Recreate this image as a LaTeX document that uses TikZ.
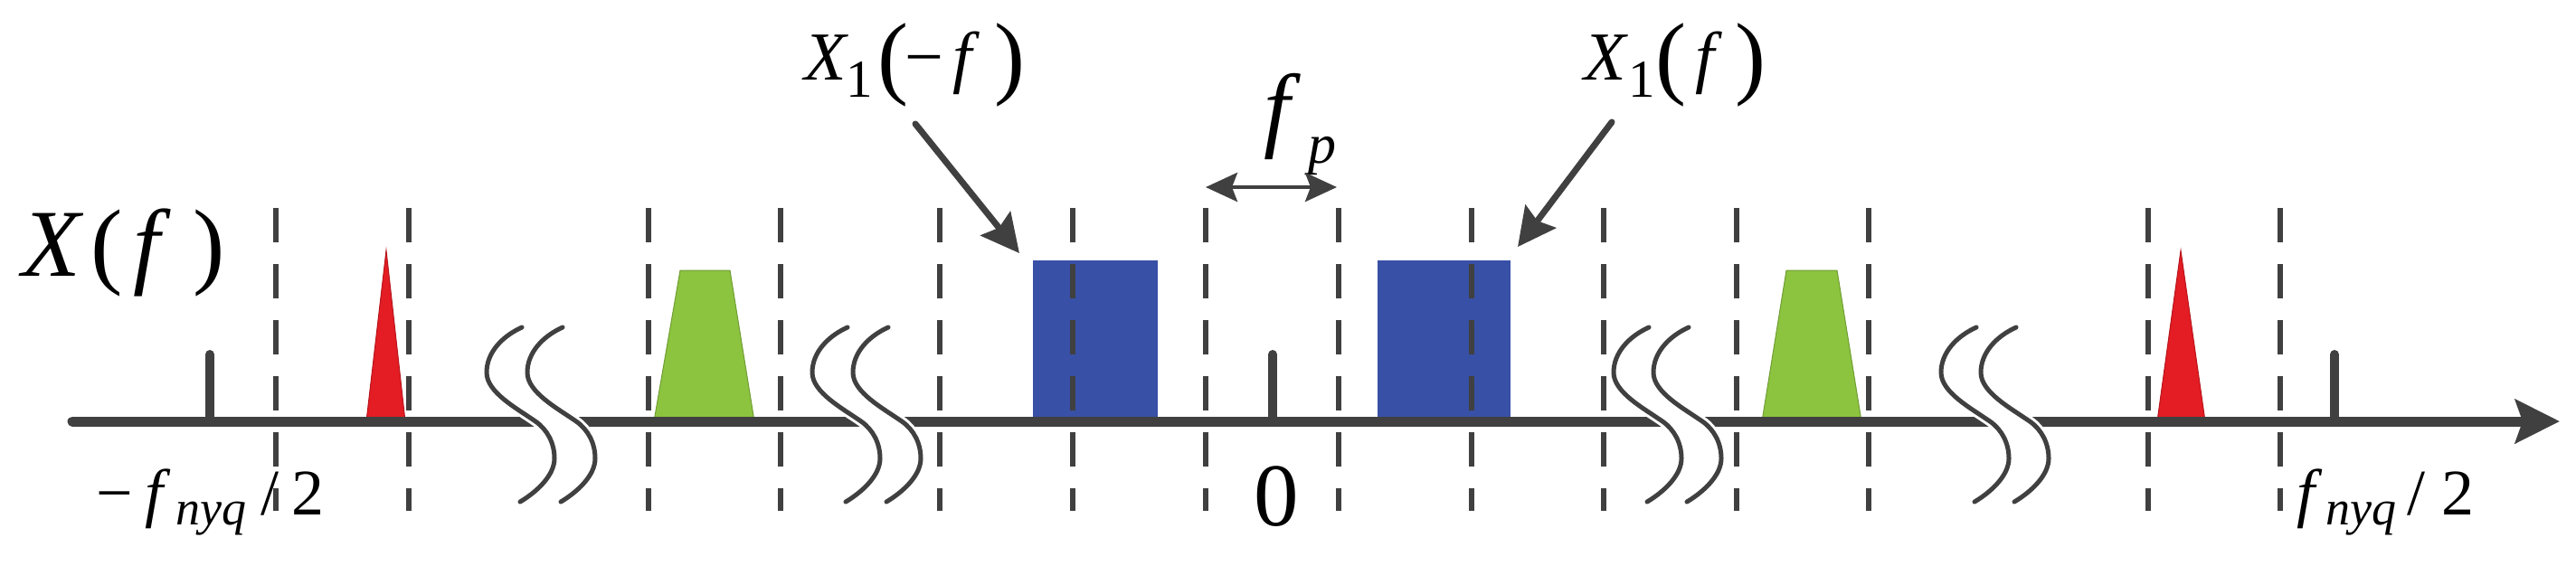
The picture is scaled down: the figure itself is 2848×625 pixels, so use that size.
\documentclass[tikz,border=0pt]{standalone}
\usepackage{fontspec}
\setmainfont{Liberation Serif}
\newfontfamily\tnr{Liberation Serif}
\usetikzlibrary{arrows.meta}
\definecolor{dk}{RGB}{64,64,64}
\definecolor{rd}{RGB}{228,28,36}
\definecolor{gn}{RGB}{140,196,64}
\definecolor{bl}{RGB}{56,80,166}
\newcommand\fsz[1]{\fontsize{#1}{#1}\selectfont}
\begin{document}
\begin{tikzpicture}[x=0.25pt,y=-0.25pt,
  every node/.style={inner sep=0pt,outer sep=0pt,anchor=base west,text=black,font=\tnr},
  axisline/.style={dk,line width=2.75pt,line cap=round,-{Stealth[length=12.25pt,width=12pt,inset=2pt]}},
  stem/.style={dk,line width=2.5pt,line cap=round},
  guide/.style={dk,line width=1.5pt,dash pattern=on 9.5pt off 6pt},
  ptr/.style={dk,line width=1.75pt,line cap=round,-{Stealth[length=10.5pt,width=10.5pt,inset=1.5pt]}},
  dbl/.style={dk,line width=1.1pt,{Stealth[length=8.75pt,width=8pt,inset=1.5pt]}-{Stealth[length=8.75pt,width=8pt,inset=1.5pt]}},
  brk/.style={dk,line width=1.25pt,line cap=round},
  halo/.style={white,line width=2.75pt},
  redband/.style={fill=rd,draw=rd!80!black,line width=0.25pt},
  greenband/.style={fill=gn,draw=gn!80!black,line width=0.25pt},
  blueband/.style={fill=bl}]
\useasboundingbox (0,0) rectangle (2848,625);
% spectral bands
\filldraw[redband] (405,466) -- (427,277) -- (448,466) -- cycle;
\filldraw[redband] (2385,466) -- (2411,277) -- (2438,466) -- cycle;
\filldraw[greenband] (723,466) -- (752,299) -- (807,299) -- (834,466) -- cycle;
\filldraw[greenband] (1948,466) -- (1975,299) -- (2031,299) -- (2058,466) -- cycle;
\fill[blueband] (1142,288) rectangle (1280,466);
\fill[blueband] (1523,288) rectangle (1670,466);
% axis
\coordinate (ax0) at (80,466);
\coordinate (ax1) at (2830,466);
\draw[axisline] (ax0) -- (ax1);
% stems
\foreach \s in {232,1407,2581} \draw[stem] (\s,466) -- (\s,392);
% dashed guides
\foreach \g in {305,452,717,863,1039,1186,1333,1480,1627,1773,1920,2066,2375,2521}
  \draw[guide] (\g,230) -- (\g,565);
% axis breaks
\foreach \a/\b in {577/622,937/982,1823/1867,2185/2229}{
  \fill[white] (\a+1,458) -- (\b+1,458) -- (\b+27,474) -- (\a+27,474) -- cycle;
  \foreach \t in {\a,\b}{
    \draw[halo] (\t,362) .. controls (\t-22,372) and (\t-39,390) .. (\t-39,412)
      .. controls (\t-39,434) and (\t-5,452) .. (\t+15,466)
      .. controls (\t+28,475) and (\t+36,490) .. (\t+36,507)
      .. controls (\t+36,525) and (\t+18,543) .. (\t-2,555);
    \draw[brk] (\t,362) .. controls (\t-22,372) and (\t-39,390) .. (\t-39,412)
      .. controls (\t-39,434) and (\t-5,452) .. (\t+15,466)
      .. controls (\t+28,475) and (\t+36,490) .. (\t+36,507)
      .. controls (\t+36,525) and (\t+18,543) .. (\t-2,555);
  }
}
% labels
\node (xf) at (24,305) {\fsz{26.5pt}\textit{X}\hspace{2pt}(\hspace{3pt}\textit{f}\hspace{6pt})};
\node (x1m) at (889,88) {\fsz{19pt}\textit{X}\hspace{-0.5pt}\raisebox{-4.75pt}{\fsz{14.75pt}1}\hspace{1.25pt}\raisebox{-2pt}{\fsz{25.5pt}(}\hspace{-1pt}−\hspace{2.5pt}\textit{f}\hspace{4pt}\raisebox{-2pt}{\fsz{25.5pt})}};
\node (x1p) at (1751,88) {\fsz{19pt}\textit{X}\hspace{0.25pt}\raisebox{-4.75pt}{\fsz{14.75pt}1}\raisebox{-2pt}{\fsz{25.5pt}(}\hspace{2.5pt}\textit{f}\hspace{3.5pt}\raisebox{-2pt}{\fsz{25.5pt})}};
\node (fp) at (1397,154) {\fsz{26pt}\textit{f}\hspace{2.2pt}\raisebox{-6.5pt}{\fsz{15.5pt}\textit{p}}};
\node (lnyq) at (106,569) {\fsz{18pt}−\hspace{3.5pt}\textit{f}\hspace{1.5pt}\raisebox{-2.75pt}{\fsz{13.5pt}\textit{nyq}}\hspace{4pt}/\hspace{3.5pt}2};
\node (rnyq) at (2539,569) {\fsz{18pt}\textit{f}\hspace{1pt}\raisebox{-2.75pt}{\fsz{13.5pt}\textit{nyq}}\hspace{3pt}/\hspace{4.5pt}2};
\node (zero) at (1386,581) {\fsz{24.75pt}0};
% pointers
\coordinate (a1s) at (1012,137);
\coordinate (a1e) at (1127,280);
\coordinate (a2s) at (1782,135);
\coordinate (a2e) at (1678,273);
\draw[ptr] (a1s) -- (a1e);
\draw[ptr] (a2s) -- (a2e);
\coordinate (fpl) at (1333,207);
\coordinate (fpr) at (1478,207);
\draw[dbl] (fpl) -- (fpr);
\end{tikzpicture}
\end{document}
